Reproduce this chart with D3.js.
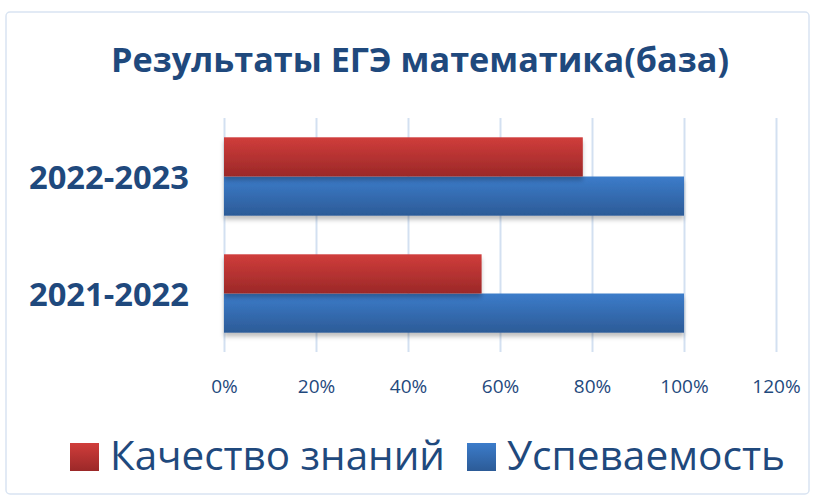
<!DOCTYPE html>
<html>
<head>
<meta charset="utf-8">
<script src="https://cdn.jsdelivr.net/npm/d3@7"></script>
<style>
body { margin: 0; background: #fff; }
text { font-family: "Open Sans", "Noto Sans", sans-serif; }
</style>
</head>
<body>
<script>
const width = 817;
const height = 499;

const title = "Результаты ЕГЭ математика(база)";
const years = ["2022-2023", "2021-2022"];
const seriesNames = ["Качество знаний", "Успеваемость"];
const quality = [0.78, 0.56];
const success = [1.0, 1.0];
const ticks = [0, 0.2, 0.4, 0.6, 0.8, 1.0, 1.2];

const textColor = "#1f497d";

const svg = d3.select("body").append("svg")
	.attr("width", width)
	.attr("height", height);

const defs = svg.append("defs");
function grad(id, top, bottom) {
	const g = defs.append("linearGradient")
		.attr("id", id)
		.attr("x1", 0).attr("y1", 0).attr("x2", 0).attr("y2", 1);
	g.append("stop").attr("offset", "0%").attr("stop-color", top);
	g.append("stop").attr("offset", "100%").attr("stop-color", bottom);
}
grad("gRed", "#d03d3b", "#9b2828");
grad("gBlue", "#3c7cca", "#2c5b97");

const shadow = defs.append("filter").attr("id", "shadow")
	.attr("x", "-5%").attr("y", "-10%").attr("width", "110%").attr("height", "140%");
shadow.append("feDropShadow")
	.attr("dx", 0).attr("dy", 4).attr("stdDeviation", 2)
	.attr("flood-color", "#000").attr("flood-opacity", 0.25);

// chart frame
svg.append("rect")
	.attr("x", 6).attr("y", 12)
	.attr("width", 803).attr("height", 482)
	.attr("rx", 4)
	.attr("fill", "#fff")
	.attr("stroke", "#d9e4f2")
	.attr("stroke-width", 1.5);

svg.append("text")
	.attr("x", 420).attr("y", 72)
	.attr("text-anchor", "middle")
	.attr("font-size", 34)
	.attr("font-weight", "bold")
	.attr("fill", textColor)
	.attr("textLength", 618)
	.attr("lengthAdjust", "spacingAndGlyphs")
	.text(title);

const x = d3.scaleLinear().domain([0, 1.2]).range([224, 776]);
const y = d3.scaleBand().domain(years).range([118, 352])
	.paddingInner(0.33).paddingOuter(0.165);
const ySub = d3.scaleBand().domain(seriesNames).range([0, y.bandwidth()]);

// gridlines + tick labels
const xAxis = d3.axisBottom(x)
	.tickValues(ticks)
	.tickSize(352 - 118)
	.tickFormat(d3.format(".0%"));

const gx = svg.append("g")
	.attr("transform", "translate(0,118)")
	.call(xAxis);
gx.select(".domain").remove();
gx.selectAll(".tick line")
	.attr("stroke", "#d3e0f1")
	.attr("stroke-width", 2);
gx.selectAll(".tick text")
	.attr("y", 275)
	.attr("dy", 0)
	.attr("font-size", 19)
	.attr("fill", textColor)
	.attr("font-family", "Open Sans, sans-serif");

// bars
const rows = years.map((yr, i) => ({ year: yr, values: [quality[i], success[i]] }));
const groups = svg.append("g").selectAll("g")
	.data(rows).join("g")
	.attr("transform", d => `translate(0,${y(d.year)})`);

groups.selectAll("rect")
	.data(d => d.values.map((v, j) => ({ name: seriesNames[j], value: v, j })).reverse())
	.join("rect")
	.attr("x", x(0))
	.attr("y", d => ySub(d.name))
	.attr("width", d => x(d.value) - x(0))
	.attr("height", ySub.bandwidth())
	.attr("fill", d => d.j === 0 ? "url(#gRed)" : "url(#gBlue)")
	.attr("filter", "url(#shadow)");

// category labels
svg.append("g").selectAll("text")
	.data(years).join("text")
	.attr("x", 189)
	.attr("y", d => y(d) + y.bandwidth() / 2 + 12)
	.attr("text-anchor", "end")
	.attr("font-size", 33)
	.attr("font-weight", "bold")
	.attr("fill", textColor)
	.attr("textLength", 160)
	.attr("lengthAdjust", "spacingAndGlyphs")
	.text(d => d);

// legend
const legendX = [70, 467];
const legendColors = ["url(#gRed)", "url(#gBlue)"];
const lg = svg.append("g").selectAll("g")
	.data(seriesNames).join("g")
	.attr("transform", (d, i) => `translate(${legendX[i]},0)`);
lg.append("rect")
	.attr("x", 0).attr("y", 443)
	.attr("width", 29).attr("height", 28)
	.attr("fill", (d, i) => legendColors[i]);
lg.append("text")
	.attr("x", 40).attr("y", 470)
	.attr("font-size", 41)
	.attr("fill", textColor)
	.attr("textLength", (d, i) => i === 0 ? 335 : 278)
	.attr("lengthAdjust", "spacingAndGlyphs")
	.text(d => d);
</script>
</body>
</html>
